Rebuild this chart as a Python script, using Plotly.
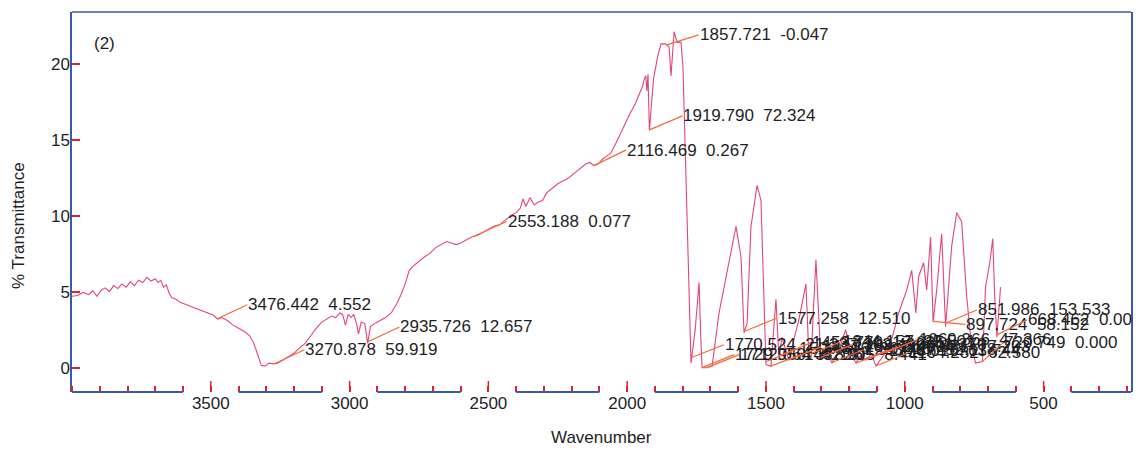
import numpy as np
import plotly.graph_objects as go

# ---------------- data ----------------
wavenumber = [
    4000, 3980, 3960, 3940, 3925, 3910, 3895, 3880, 3865, 3850,
    3835, 3820, 3805, 3790, 3775, 3760, 3745, 3730, 3715, 3700,
    3690, 3680, 3670, 3660, 3650, 3640, 3625, 3610, 3590, 3570,
    3550, 3530, 3510, 3490, 3475, 3460, 3440, 3420, 3400, 3380,
    3360, 3345, 3330, 3318, 3305, 3290, 3275, 3260, 3240, 3220,
    3200, 3180, 3160, 3140, 3120, 3100, 3080, 3065, 3050, 3035,
    3025, 3015, 3005, 2995, 2985, 2975, 2968, 2958, 2945, 2935,
    2925, 2910, 2890, 2870, 2850, 2830, 2815, 2800, 2785, 2770,
    2750, 2730, 2712, 2690, 2670, 2650, 2635, 2615, 2600, 2580,
    2560, 2540, 2520, 2500, 2480, 2460, 2440, 2420, 2400, 2385,
    2375, 2365, 2350, 2335, 2320, 2305, 2290, 2270, 2250, 2230,
    2210, 2190, 2170, 2150, 2135, 2120, 2105, 2090, 2075, 2060,
    2045, 2030, 2010, 1990, 1970, 1955, 1945, 1938, 1933, 1929,
    1925, 1920, 1905, 1890, 1878, 1862, 1849, 1842, 1831, 1820,
    1806, 1799, 1770, 1755, 1741, 1735, 1730, 1712, 1694, 1669,
    1640, 1608, 1590, 1579, 1568, 1554, 1532, 1518, 1500, 1482,
    1464, 1453, 1443, 1417, 1400, 1381, 1356, 1346, 1338, 1320,
    1302, 1280, 1263, 1240, 1213, 1195, 1176, 1160, 1140, 1120,
    1104, 1085, 1069, 1045, 1022, 993, 975, 960, 950, 932,
    921, 907, 898, 885, 867, 853, 831, 813, 795, 777,
    760, 745, 720, 709, 693, 683, 676, 668, 655,
]
transmittance = [
    4.7, 4.75, 4.95, 4.8, 5.05, 4.7, 5.1, 5.25, 5.0, 5.4,
    5.2, 5.5, 5.3, 5.65, 5.4, 5.75, 5.6, 5.95, 5.7, 5.85,
    5.6, 5.75, 5.3, 5.45, 4.9, 4.6, 4.5, 4.3, 4.15, 4.0,
    3.85, 3.7, 3.6, 3.45, 3.2, 3.3, 3.1, 2.8, 2.6, 2.4,
    2.1, 1.6, 0.8, 0.15, 0.1, 0.3, 0.25, 0.3, 0.5, 0.7,
    0.95, 1.3, 1.6, 2.1, 2.6, 3.0, 3.2, 3.4, 3.3, 3.6,
    3.5, 2.8, 3.5, 3.3, 3.5, 2.9, 2.2, 3.0, 2.9, 1.6,
    2.7, 2.9, 3.1, 3.3, 3.6, 4.2, 4.8, 5.5, 6.4, 6.7,
    7.0, 7.3, 7.5, 7.9, 8.1, 8.3, 8.2, 8.1, 8.2, 8.4,
    8.6, 8.7, 8.9, 9.1, 9.3, 9.4, 9.7, 10.0, 10.2, 10.5,
    11.1, 10.6, 11.2, 10.7, 10.9, 11.0, 11.5, 11.8, 12.1, 12.3,
    12.5, 12.8, 13.1, 13.4, 13.5, 13.3, 13.4, 13.7, 13.9, 14.1,
    14.6, 15.2, 16.0, 16.7, 17.4, 18.0, 18.5, 19.0, 19.2, 18.2,
    19.3, 15.6, 19.0, 20.5, 21.3, 21.3, 21.1, 19.2, 22.1, 21.4,
    21.4, 19.8, 0.3, 2.5, 5.6, 2.0, 0.0, 0.0, 0.1, 3.6,
    6.4, 9.3, 7.3, 2.3, 2.9, 9.3, 12.0, 11.0, 0.2, 0.1,
    4.5, 0.5, 2.0, 0.5, 1.8, 3.2, 5.5, 1.0, 0.5, 7.1,
    0.5, 1.2, 0.3, 1.0, 2.5, 1.0, 0.3, 0.8, 0.5, 0.9,
    0.1, 0.6, 1.0, 2.0, 3.6, 5.1, 6.4, 3.6, 6.0, 6.9,
    5.1, 8.6, 3.0, 5.1, 8.8, 2.7, 8.0, 10.2, 9.6, 4.7,
    1.5, 0.3, 0.4, 5.3, 7.0, 8.5, 4.7, 2.0, 5.3,
]
assert len(wavenumber) == len(transmittance)

# peak labels: wavenumber and printed text
peak_wn = [3476.442, 3270.878, 2935.726, 2553.188, 2116.469, 1919.790, 1857.721,
           1577.258, 1770.524, 1729.950, 1712.064, 1500.316, 1482.905, 1453.770,
           1417.288, 1344.157, 1302.492, 1263.427, 1176.016, 1140.871, 1104.282,
           1069.366, 897.724, 851.986, 720.749, 668.462]
peak_text = ["3476.442  4.552", "3270.878  59.919", "2935.726  12.657", "2553.188  0.077",
             "2116.469  0.267", "1919.790  72.324", "1857.721  -0.047", "1577.258  12.510",
             "1770.524  21.337", "1729.950  37.181", "1712.064  4.826", "1500.316  36.218",
             "1482.905  8.441", "1453.770  17.625", "1417.288  26.904", "1344.157  85.501",
             "1302.492  41.370", "1263.427  52.118", "1176.016  63.744", "1140.871  77.203",
             "1104.282  62.580", "1069.366  47.366", "897.724  58.152", "851.986  153.533",
             "720.749  0.000", "668.462  0.00"]
# pixel offsets of each label from its peak (layout)
label_dx = [30, 30, 32, 33, 31, 33, 32, 32, 33, 32, 32, 32, 32, 32, 32, 33, 32, 32, 32, 32, 32, 32, 32, 31, 21, 30]
label_dy = [-14, -14, -15, -15, -15, -14, -10, -13, -13, -13, -13, -13, -12, -13, -13, -13, -13, -13, -13, -13, -13, -13, 3, -13, -19, -15]

x_major = [3500, 3000, 2500, 2000, 1500, 1000, 500]
y_ticks = [0, 5, 10, 15, 20]
axis_segments = [(4000, 3600), (3400, 3100), (2900, 2600), (2400, 2100),
                 (1900, 1600), (1400, 1100), (900, 600), (400, 185)]

# ---------------- style ----------------
FONT = "Liberation Sans, Arial, sans-serif"
BLUE = "#3a5aa3"
RED = "#e0202e"
PINK = "#e2457c"
ORANGE = "#f26a3a"
TXT = "#1e1e24"

fig = go.Figure()
fig.add_trace(go.Scatter(x=wavenumber, y=transmittance, mode="lines",
                         line=dict(color=PINK, width=1.1), hoverinfo="skip",
                         showlegend=False))

wn_arr = np.array(wavenumber, dtype=float)
t_arr = np.array(transmittance, dtype=float)
order = np.argsort(wn_arr)

annotations = []
for wn, txt, dx, dy in zip(peak_wn, peak_text, label_dx, label_dy):
    ty = float(np.interp(wn, wn_arr[order], t_arr[order]))
    annotations.append(dict(
        x=wn, y=ty, xref="x", yref="y", text=txt, showarrow=True,
        arrowhead=0, arrowwidth=1.2, arrowcolor=ORANGE, standoff=0,
        startstandoff=0, ax=dx, ay=dy, xanchor="left", yanchor="middle",
        font=dict(family=FONT, size=17, color=TXT), borderpad=0,
    ))

annotations.append(dict(text="(2)", xref="paper", yref="paper", x=0, y=0.916,
                        xshift=20, xanchor="left", yanchor="middle",
                        showarrow=False, font=dict(family=FONT, size=17, color=TXT)))
annotations.append(dict(text="Wavenumber", xref="paper", yref="paper", x=0.5, y=0,
                        yshift=-45, xanchor="center", yanchor="middle",
                        showarrow=False, font=dict(family=FONT, size=17, color=TXT)))
annotations.append(dict(text="% Transmittance", xref="paper", yref="paper", x=0,
                        y=0.437, xshift=-53, textangle=-90, xanchor="center",
                        yanchor="middle", showarrow=False,
                        font=dict(family=FONT, size=17, color=TXT)))

shapes = []
# top border
shapes.append(dict(type="line", xref="paper", yref="paper", x0=0, x1=1, y0=1, y1=1,
                   line=dict(color=BLUE, width=1.5)))
# broken bottom axis line
for a, b in axis_segments:
    shapes.append(dict(type="line", xref="x", yref="paper", x0=a, x1=b, y0=0, y1=0,
                       line=dict(color=BLUE, width=1.8)))
# floating major ticks
for v in x_major:
    shapes.append(dict(type="line", xref="x", yref="paper", x0=v, x1=v,
                       ysizemode="pixel", yanchor=0, y0=4, y1=11,
                       line=dict(color=RED, width=1.5)))

fig.update_layout(
    width=1145, height=451,
    margin=dict(l=72, r=12, t=12, b=59),
    paper_bgcolor="white", plot_bgcolor="white",
    showlegend=False,
    hovermode=False,
    xaxis=dict(range=[4000, 185], showgrid=False, zeroline=False, showline=False,
               tickmode="array", tickvals=x_major, ticks="",
               ticklabelstandoff=-1,
               tickfont=dict(family=FONT, size=17, color=TXT),
               minor=dict(tickmode="linear", tick0=0, dtick=100, ticks="inside",
                          ticklen=6, tickcolor=RED, tickwidth=1.5, showgrid=False)),
    yaxis=dict(range=[-1.6, 23.4], showgrid=False, zeroline=False, showline=True,
               linecolor=BLUE, linewidth=1.5, mirror=True,
               tickmode="array", tickvals=y_ticks, ticks="inside", ticklen=8,
               tickcolor=RED, tickwidth=1.5, ticklabelstandoff=-3,
               tickfont=dict(family=FONT, size=17, color=TXT)),
    annotations=annotations,
    shapes=shapes,
)

fig.write_html("out.html", config={"displayModeBar": False},
               post_script="document.body.style.margin='0';document.body.style.padding='0';")
